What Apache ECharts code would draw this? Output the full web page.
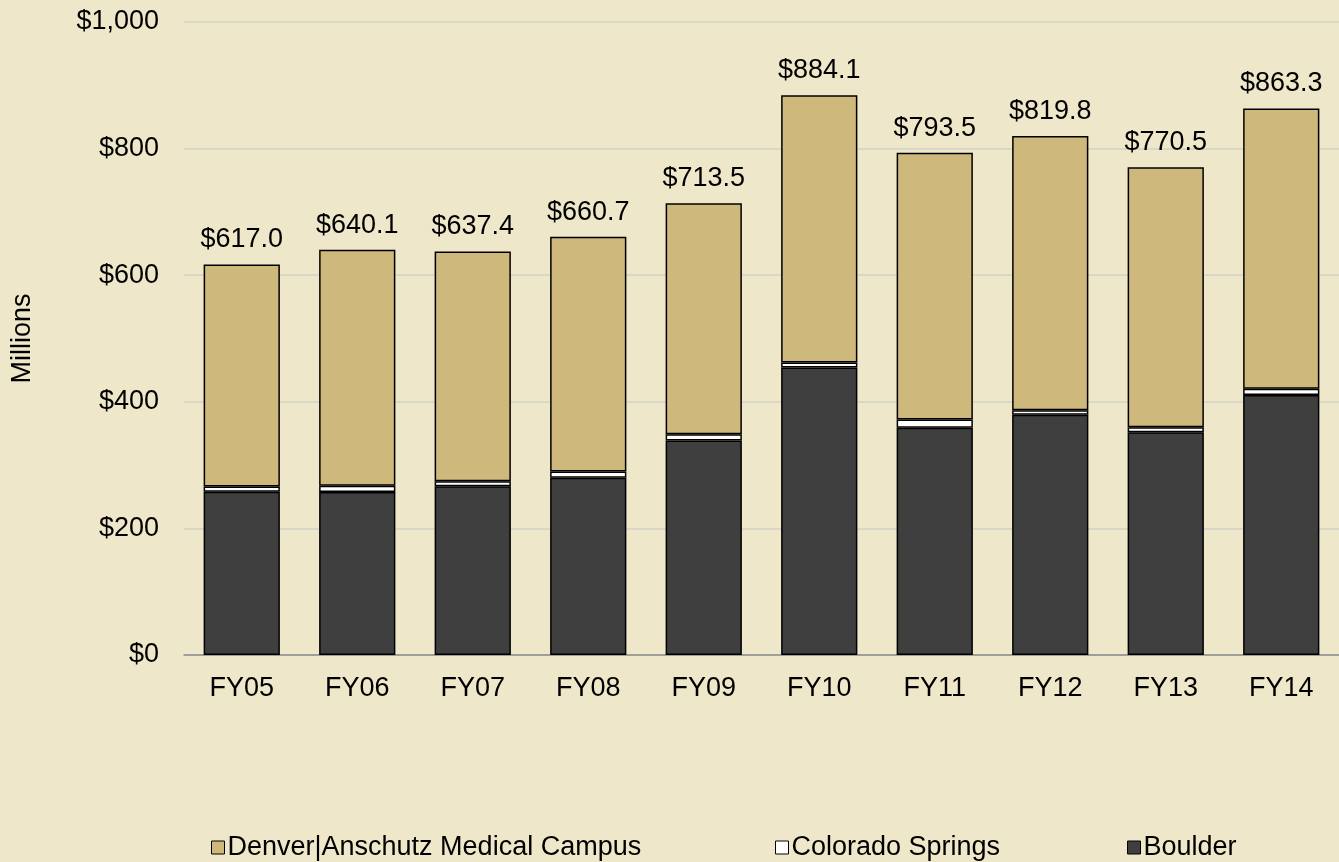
<!DOCTYPE html>
<html>
<head>
<meta charset="utf-8">
<script src="https://cdn.jsdelivr.net/npm/echarts@6/dist/echarts.min.js"></script>
<style>
  html, body { margin: 0; padding: 0; background: #EEE7CA; }
  #chart { width: 1339px; height: 862px; }
</style>
</head>
<body>
<div id="chart"></div>
<script>
// 数据
const years = ['FY05', 'FY06', 'FY07', 'FY08', 'FY09', 'FY10', 'FY11', 'FY12', 'FY13', 'FY14']
const boulder = [258.0, 257.5, 266.5, 280.0, 339.0, 454.0, 359.0, 379.6, 351.8, 410.7]
const springs = [8.0, 10.0, 8.0, 10.0, 9.6, 8.0, 13.0, 7.0, 8.0, 10.0]
const denver = [351.0, 372.6, 362.9, 370.7, 364.9, 422.1, 421.5, 433.2, 410.7, 442.6]
const totals = ['$617.0', '$640.1', '$637.4', '$660.7', '$713.5', '$884.1', '$793.5', '$819.8', '$770.5', '$863.3']
const yTicks = [0, 200, 400, 600, 800, 1000]

const font = "'Liberation Sans', Arial, sans-serif"
const chart = echarts.init(document.getElementById('chart'))

// 图例（三个分开放置，模拟原图间距）
const legendItem = (name, left) => ({
  data: [name],
  left: left,
  top: 829,
  itemWidth: 13,
  itemHeight: 13,
  icon: 'rect',
  selectedMode: false,
  itemStyle: { borderColor: '#000', borderWidth: 1 },
  textStyle: { fontFamily: font, fontSize: 27, color: '#000', padding: [0, 0, 0, -2] }
})

const option = {
  backgroundColor: '#EEE7CA',
  animation: false,
  textStyle: { fontFamily: font },
  grid: { left: 184, right: -15, top: 22, bottom: 207, containLabel: false },
  legend: [
    legendItem('Denver|Anschutz Medical Campus', 206),
    legendItem('Colorado Springs', 770),
    legendItem('Boulder', 1122)
  ],
  xAxis: {
    type: 'category',
    data: years,
    axisLine: { lineStyle: { color: '#8C8C8C', width: 1.5 } },
    axisTick: { show: false },
    axisLabel: { fontSize: 27, color: '#000', margin: 20, fontFamily: font }
  },
  yAxis: {
    type: 'value',
    min: yTicks[0],
    max: yTicks[yTicks.length - 1],
    interval: 200,
    name: 'Millions',
    nameLocation: 'middle',
    nameRotate: 90,
    nameGap: 148,
    nameTextStyle: { fontSize: 27, color: '#000', fontFamily: font },
    axisLine: { show: false },
    axisTick: { show: false },
    axisLabel: {
      fontSize: 27,
      color: '#000',
      margin: 25,
      padding: [5, 0, 0, 0],
      fontFamily: font,
      formatter: v => '$' + v.toLocaleString('en-US')
    },
    splitLine: { lineStyle: { color: '#D2D3C6', width: 1.5 } }
  },
  series: [
    {
      name: 'Boulder',
      type: 'bar',
      stack: 'total',
      barWidth: '66%',
      data: boulder,
      itemStyle: { color: '#3F3F3F', borderColor: '#000', borderWidth: 1.5 }
    },
    {
      name: 'Colorado Springs',
      type: 'bar',
      stack: 'total',
      data: springs,
      itemStyle: { color: '#FFFFFF', borderColor: '#000', borderWidth: 1.5 }
    },
    {
      name: 'Denver|Anschutz Medical Campus',
      type: 'bar',
      stack: 'total',
      data: denver,
      itemStyle: { color: '#CFB87C', borderColor: '#000', borderWidth: 1.5 },
      label: {
        show: true,
        position: 'top',
        distance: 11,
        fontSize: 27,
        color: '#000',
        fontFamily: font,
        formatter: p => totals[p.dataIndex]
      }
    }
  ]
}

chart.setOption(option)
</script>
</body>
</html>
